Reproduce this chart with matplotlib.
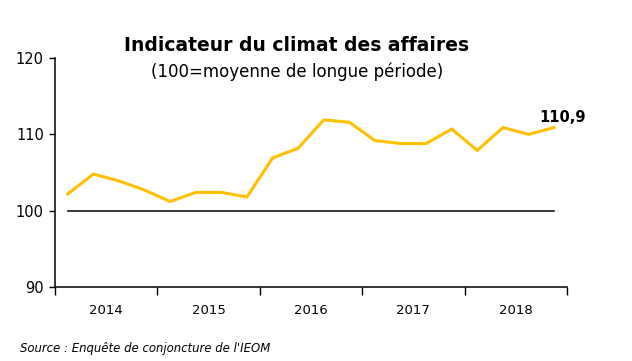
import matplotlib

matplotlib.use("Agg")
import matplotlib.pyplot as plt
from matplotlib.ticker import FixedLocator, NullFormatter

plt.rcParams["font.family"] = "DejaVu Sans"

years = ["2014", "2015", "2016", "2017", "2018"]
# indice trimestriel (T1 2014 -> T4 2018)
values = [
    102.2, 104.8, 103.9, 102.7,
    101.2, 102.4, 102.4, 101.8,
    106.9, 108.2, 111.9, 111.6,
    109.2, 108.8, 108.8, 110.7,
    107.9, 110.9, 110.0, 110.9,
]
last_label = "110,9"

x = list(range(len(values)))

fig = plt.figure(figsize=(6.32, 3.61), dpi=100)
ax = fig.add_axes([0.087, 0.205, 0.81, 0.634])

ax.plot(x, [100] * len(x), color="black", linewidth=1.1)
ax.plot(x, values, color="#FFC000", linewidth=2.2, solid_joinstyle="miter")
ax.annotate(last_label, (x[-1], values[-1]), xytext=(-11, 4),
            textcoords="offset points", fontsize=10.5, fontweight="bold")

ax.set_xlim(-0.5, len(values) - 0.5)
ax.set_ylim(90, 120)
ax.set_yticks([90, 100, 110, 120])

ax.xaxis.set_major_locator(FixedLocator([i * 4 - 0.5 for i in range(len(years) + 1)]))
ax.xaxis.set_major_formatter(NullFormatter())
ax.xaxis.set_minor_locator(FixedLocator([i * 4 + 1.5 for i in range(len(years))]))
ax.set_xticklabels(years, minor=True)
ax.tick_params(axis="x", which="major", length=6, width=1, direction="out")
ax.tick_params(axis="x", which="minor", length=0, pad=12, labelsize=9.5)
ax.tick_params(axis="y", length=4, width=1, labelsize=10.5, pad=4)

for s in ["top", "right"]:
    ax.spines[s].set_visible(False)
for s in ["left", "bottom"]:
    ax.spines[s].set_linewidth(1.1)

fig.text(0.47, 0.86, "Indicateur du climat des affaires", ha="center",
         fontsize=13.5, fontweight="bold")
fig.text(0.47, 0.786, "(100=moyenne de longue période)", ha="center", fontsize=12)
fig.text(0.032, 0.025, "Source : Enquête de conjoncture de l'IEOM",
         fontsize=9.4, style="italic", fontstretch="condensed")

fig.savefig("out.png", dpi=100)
